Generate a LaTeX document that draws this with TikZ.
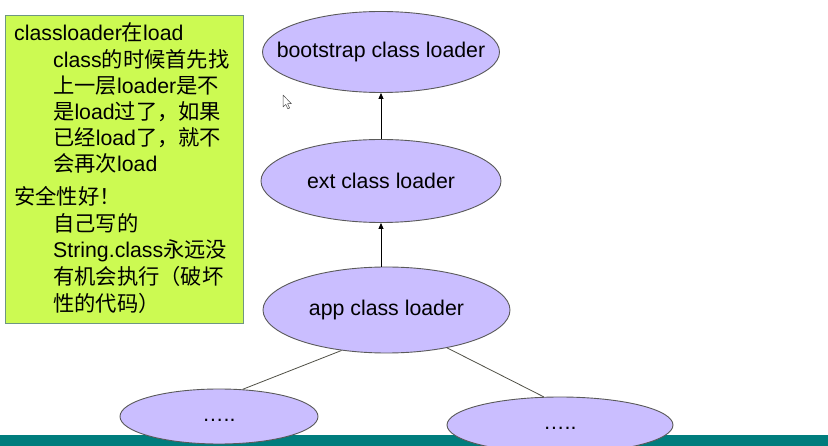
\documentclass[tikz,border=0pt]{standalone}
\usepackage{fontspec}
\setmainfont{Liberation Sans}
\newfontfamily\cjk{Noto Sans CJK SC}
\newcommand\zh[1]{{\cjk #1}}
\usetikzlibrary{shapes.geometric,arrows.meta}
\definecolor{boxfill}{RGB}{204,250,82}
\definecolor{boxline}{RGB}{110,150,130}
\definecolor{ellfill}{RGB}{202,190,255}
\definecolor{ellline}{RGB}{90,90,90}
\definecolor{barteal}{RGB}{0,125,125}
\definecolor{linkgrey}{RGB}{80,80,70}
\tikzset{
  loader/.style={ellipse,draw=ellline,fill=ellfill,line width=0.9pt,inner sep=0pt,
    font=\fontsize{21.3}{25}\selectfont},
  note/.style={anchor=base west,inner sep=0pt,font=\fontsize{21.3}{26}\selectfont},
  up/.style={draw=black,line width=0.8pt,-{Triangle[length=6pt,width=5pt]}},
  link/.style={draw=linkgrey,line width=0.8pt},
}
\begin{document}
\begin{tikzpicture}[x=1pt,y=-1pt]
\useasboundingbox (0,0) rectangle (828,446);
\fill[white] (0,0) rectangle (828,446);
% bottom bar
\fill[barteal] (0,435) rectangle (828,446);
% text box
\node[draw=boxline,fill=boxfill,line width=0.8pt,minimum width=238pt,minimum height=308pt,anchor=north west,inner sep=0pt] (box) at (5,15) {};
\node[note] (t1) at (14,40.5) {classloader\zh{在}load};
\node[note] (t2) at (53,67.5) {class\zh{的时候首先找}};
\node[note] (t3) at (53,93.5) {\zh{上一层}loader\zh{是不}};
\node[note] (t4) at (53,120) {\zh{是}load\zh{过了，如果}};
\node[note] (t5) at (53,146) {\zh{已经}load\zh{了，就不}};
\node[note] (t6) at (53,172) {\zh{会再次}load};
\node[note] (t7) at (14,205) {\zh{安全性好！}};
\node[note] (t8) at (53,232) {\zh{自己写的}};
\node[note] (t9) at (53,258) {String.class\zh{永远没}};
\node[note] (t10) at (53,285) {\zh{有机会执行（破坏}};
\node[note] (t11) at (53,312) {\zh{性的代码）}};
% loaders
\node[loader,minimum width=237pt,minimum height=81pt] (boot) at (381,52) {\makebox[0pt]{\raisebox{-2pt}{bootstrap class loader}}};
\node[loader,minimum width=240pt,minimum height=83pt] (ext) at (381,181) {\makebox[0pt]{\raisebox{-1pt}{ext class loader}}};
\node[loader,minimum width=247pt,minimum height=86pt] (app) at (386.5,310) {\makebox[0pt]{\raisebox{-1pt}{app class loader}}};
\node[loader,minimum width=198pt,minimum height=55pt] (left) at (219,416.5) {\makebox[0pt]{\raisebox{-11pt}{\dots..}}};
\node[loader,minimum width=226pt,minimum height=56pt] (right) at (560,425) {\makebox[0pt]{\raisebox{-10pt}{\dots..}}};
% arrows
\draw[up] (ext.north) -- (boot.south);
\draw[up] (app.north -| ext.south) -- (ext.south);
\draw[link] (app.222) -- (left.49);
\draw[link] (app.328) -- (right.120);
% mouse pointer
\coordinate (cur) at (283,95);
\draw[fill=white,draw=black!70,line width=0.5pt,line join=round]
  (cur) -- ++(0,12) -- ++(2.8,-2.6) -- ++(2,4.4) -- ++(1.8,-0.8) -- ++(-2,-4.3) -- ++(3.8,0) -- cycle;
\end{tikzpicture}
\end{document}
